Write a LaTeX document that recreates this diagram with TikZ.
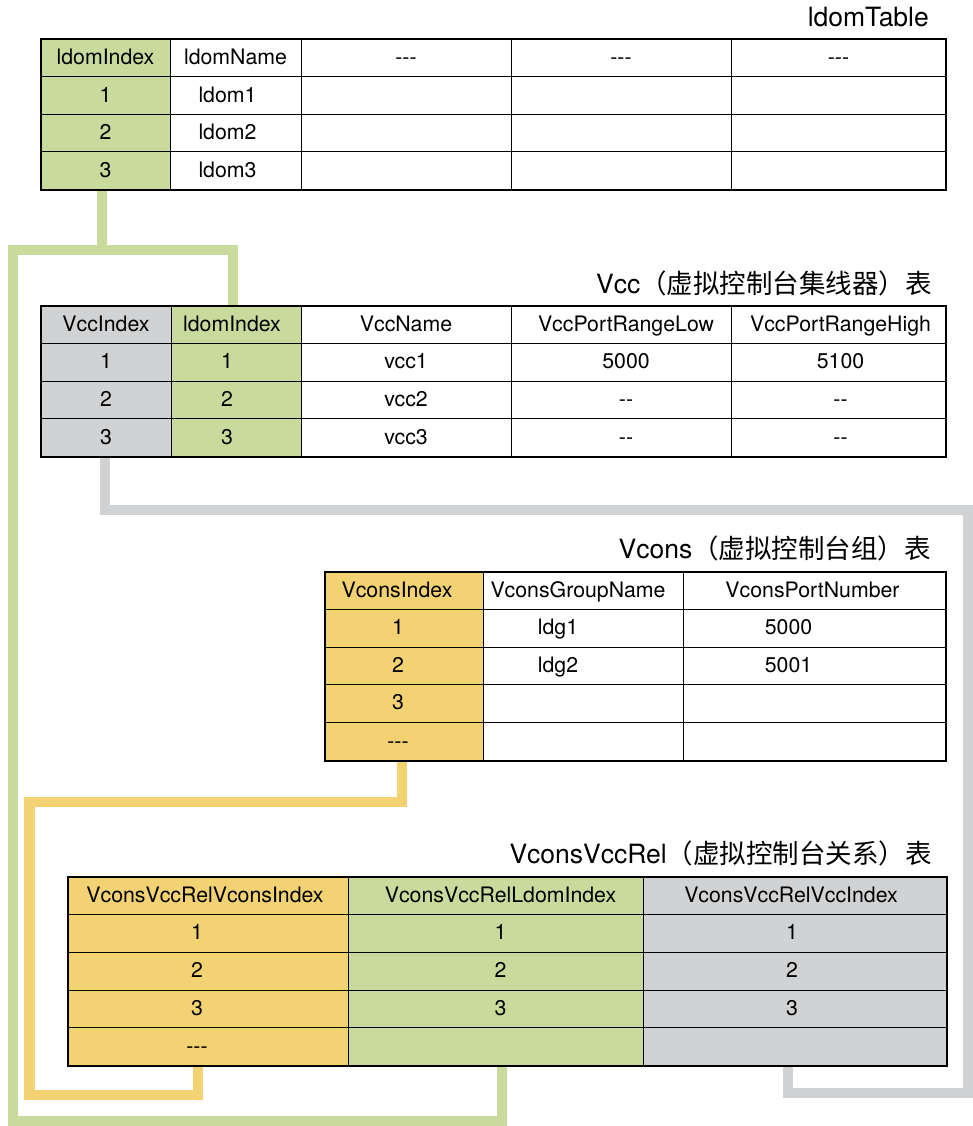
\documentclass[tikz,border=0pt]{standalone}
\usepackage{fontspec}
\setmainfont{TeX Gyre Heros}
\newfontfamily\cjk{Noto Sans CJK SC}
\usetikzlibrary{backgrounds}
\definecolor{lgreen}{RGB}{201,218,157}
\definecolor{lgray}{RGB}{209,210,212}
\definecolor{lyellow}{RGB}{242,210,114}
\newcommand\tdash{-{}-{}-}
\newcommand\ddash{-{}-}
\begin{document}
\begin{tikzpicture}[x=1pt,y=-1pt,
  cell/.style={draw=black, line width=1pt, inner sep=0pt, outer sep=0pt, rectangle},
  txt/.style={inner sep=0pt, anchor=base, font=\fontsize{21.3}{25}\selectfont},
  ttl/.style={inner sep=0pt, anchor=base east, font=\fontsize{26.5}{31}\selectfont},
  border/.style={draw=black, line width=2pt},
  link/.style={line width=10.5pt, line join=miter, line cap=butt},
  glink/.style={link, draw=lgreen},
  graylink/.style={link, draw=lgray},
  ylink/.style={link, draw=lyellow}]
\useasboundingbox (0,0) rectangle (973,1126);

% ---------- Table A: ldomTable
\foreach \c/\xa/\xb/\fc in {1/41/170/lgreen,2/170/301/white,3/301/511/white,4/511/731/white,5/731/946/white}
  \foreach \r/\ya/\yb in {1/39/77,2/77/115,3/115/152,4/152/190}
    \node[cell, fill=\fc, minimum width={\xb-\xa}, minimum height={\yb-\ya}] (A-\c-\r) at ({(\xa+\xb)/2},{(\ya+\yb)/2}) {};
\draw[border] (A-1-1.north west) rectangle (A-5-4.south east);
\foreach \nm/\dx/\tx in {A-1-1/0/ldomIndex, A-2-1/0/ldomName, A-3-1/0/\tdash, A-4-1/0/\tdash, A-5-1/0/\tdash,
    A-1-2/0/1, A-2-2/-8/ldom1, A-1-3/0/2, A-2-3/-8/ldom2, A-1-4/0/3, A-2-4/-8/ldom3}
  \node[txt] (\nm-t) at ([xshift=\dx pt, yshift=-6.5pt]\nm.center) {\tx};
\node[ttl] (titleA) at (929,27) {ldomTable};

% ---------- Table B: Vcc
\foreach \c/\xa/\xb/\fc in {1/41/171/lgray,2/171/301/lgreen,3/301/511/white,4/511/731/white,5/731/946/white}
  \foreach \r/\ya/\yb in {1/306/343,2/343/381,3/381/418,4/418/457}
    \node[cell, fill=\fc, minimum width={\xb-\xa}, minimum height={\yb-\ya}] (B-\c-\r) at ({(\xa+\xb)/2},{(\ya+\yb)/2}) {};
\draw[border] (B-1-1.north west) rectangle (B-5-4.south east);
\foreach \nm/\dx/\tx in {B-1-1/0/VccIndex, B-2-1/-4/ldomIndex, B-3-1/0/VccName, B-4-1/5/VccPortRangeLow, B-5-1/2/VccPortRangeHigh,
    B-1-2/0/1, B-2-2/-9/1, B-3-2/0/vcc1, B-4-2/5/5000, B-5-2/2/5100,
    B-1-3/0/2, B-2-3/-9/2, B-3-3/0/vcc2, B-4-3/5/\ddash, B-5-3/2/\ddash,
    B-1-4/0/3, B-2-4/-9/3, B-3-4/0/vcc3, B-4-4/5/\ddash, B-5-4/2/\ddash}
  \node[txt] (\nm-t) at ([xshift=\dx pt, yshift=-6.5pt]\nm.center) {\tx};
\node[ttl] (titleB) at (932,293) {Vcc{\cjk（虚拟控制台集线器）表}};

% ---------- Table C: Vcons
\foreach \c/\xa/\xb/\fc in {1/325/483/lyellow,2/483/683/white,3/683/946/white}
  \foreach \r/\ya/\yb in {1/572/609,2/609/647,3/647/684,4/684/722,5/722/761}
    \node[cell, fill=\fc, minimum width={\xb-\xa}, minimum height={\yb-\ya}] (C-\c-\r) at ({(\xa+\xb)/2},{(\ya+\yb)/2}) {};
\draw[border] (C-1-1.north west) rectangle (C-3-5.south east);
\foreach \nm/\dx/\tx in {C-1-1/-7/VconsIndex, C-2-1/-5/VconsGroupName, C-3-1/-2/VconsPortNumber,
    C-1-2/-6/1, C-2-2/-25/ldg1, C-3-2/-26/5000,
    C-1-3/-6/2, C-2-3/-25/ldg2, C-3-3/-26/5001,
    C-1-4/-6/3, C-1-5/-6/\tdash}
  \node[txt] (\nm-t) at ([xshift=\dx pt, yshift=-6.5pt]\nm.center) {\tx};
\node[ttl] (titleC) at (931,558) {Vcons{\cjk（虚拟控制台组）表}};

% ---------- Table D: VconsVccRel
\foreach \c/\xa/\xb/\fc in {1/68/348/lyellow,2/348/643/lgreen,3/643/947/lgray}
  \foreach \r/\ya/\yb in {1/877/914,2/914/952,3/952/990,4/990/1027,5/1027/1066}
    \node[cell, fill=\fc, minimum width={\xb-\xa}, minimum height={\yb-\ya}] (D-\c-\r) at ({(\xa+\xb)/2},{(\ya+\yb)/2}) {};
\draw[border] (D-1-1.north west) rectangle (D-3-5.south east);
\foreach \nm/\dx/\tx in {D-1-1/-3/VconsVccRelVconsIndex, D-2-1/5/VconsVccRelLdomIndex, D-3-1/-4/VconsVccRelVccIndex,
    D-1-2/-11/1, D-2-2/5/1, D-3-2/-3/1,
    D-1-3/-11/2, D-2-3/5/2, D-3-3/-3/2,
    D-1-4/-11/3, D-2-4/5/3, D-3-4/-3/3,
    D-1-5/-11/\tdash}
  \node[txt] (\nm-t) at ([xshift=\dx pt, yshift=-6.5pt]\nm.center) {\tx};
\node[ttl] (titleD) at (932,863) {VconsVccRel{\cjk（虚拟控制台关系）表}};

% ---------- connectors (behind tables)
\coordinate (gL) at (13,250);
\coordinate (gB) at (13,1121);
\coordinate (grR1) at (968,510);
\coordinate (grR2) at (968,1093);
\coordinate (yL1) at (29.5,802);
\coordinate (yL2) at (29.5,1095);
\begin{pgfonlayer}{background}
  \draw[glink] ([xshift=-3.5]A-1-4.south) -- ([xshift=-3.5]A-1-4.south |- gL);
  \draw[glink] ([xshift=-3]B-2-1.north) |- (gL) -- (gB) -| ([xshift=6.5]D-2-5.south);
  \draw[graylink] ([xshift=-1]B-1-4.south) |- (grR1) -- (grR2) -| ([xshift=-7]D-3-5.south);
  \draw[ylink] ([xshift=-2]C-1-5.south) |- (yL1) -- (yL2) -| ([xshift=-10]D-1-5.south);
\end{pgfonlayer}
\end{tikzpicture}
\end{document}
